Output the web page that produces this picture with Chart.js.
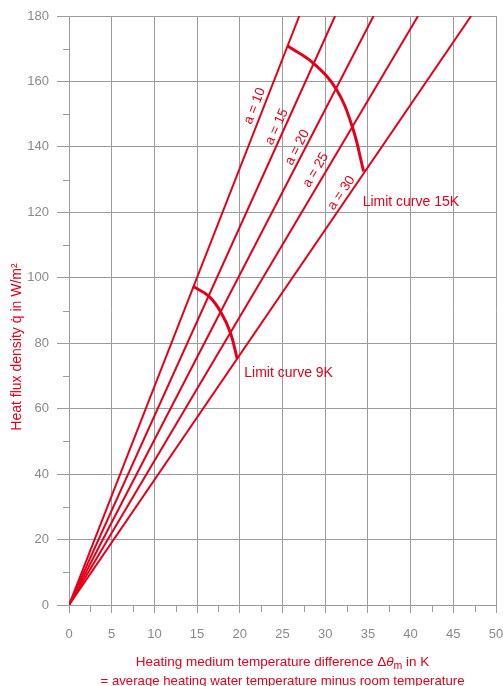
<!DOCTYPE html>
<html>
<head>
<meta charset="utf-8">
<script src="https://cdn.jsdelivr.net/npm/chart.js@4.4.1/dist/chart.umd.min.js"></script>
<style>
  html, body { margin: 0; padding: 0; background: #ffffff; }
  #wrap { width: 503px; height: 686px; position: relative; }
</style>
</head>
<body>
<div id="wrap"><canvas id="c" width="503" height="686"></canvas></div>
<script>
// ---- data ----
const lineLabels = ['a = 10', 'a = 15', 'a = 20', 'a = 25', 'a = 30'];
const lineStartX = [0, 0, 0, 0, 0];
const lineStartY = [0, 0, 0, 0, 0];
const lineEndX = [26.97, 31.16, 35.66, 40.87, 47.09];
const lineEndY = [180, 180, 180, 180, 180];

const limit15Label = 'Limit curve 15K';
const limit15X = [25.6, 28.6, 31.3, 33.2, 34.5];
const limit15Y = [170.8, 165.6, 157.6, 145.9, 132.5];

const limit9Label = 'Limit curve 9K';
const limit9X = [14.5, 16.4, 17.8, 18.9, 19.7];
const limit9Y = [97.4, 94.3, 89.4, 83.2, 75.2];

const xTicks = [0, 5, 10, 15, 20, 25, 30, 35, 40, 45, 50];
const yTicks = [0, 20, 40, 60, 80, 100, 120, 140, 160, 180];
const xMinorTicks = [2.5, 7.5, 12.5, 17.5, 22.5, 27.5, 32.5, 37.5, 42.5, 47.5];
const yMinorTicks = [10, 30, 50, 70, 90, 110, 130, 150, 170];

const yTitle = 'Heat flux density q\u0307 in W/m\u00B2';
const xTitleParts = ['Heating medium temperature difference \u0394', '\u03B8', 'm', ' in K'];
const xTitle2 = '= average heating water temperature minus room temperature';

// ---- styling ----
const RED = '#e2001a';
const GRID = '#9c9c9c';
const TICKTXT = '#8a8a8a';
const FONT = '"Liberation Sans", Arial, Helvetica, sans-serif';

const toPts = (xs, ys) => xs.map((x, i) => ({ x: x, y: ys[i] }));

const datasets = [];
lineLabels.forEach((lab, i) => {
  datasets.push({
    label: lab,
    data: toPts([lineStartX[i], lineEndX[i]], [lineStartY[i], lineEndY[i]]),
    showLine: true, borderColor: RED, borderWidth: 2, pointRadius: 0, tension: 0
  });
});
datasets.push({
  label: limit15Label, data: toPts(limit15X, limit15Y),
  showLine: true, borderColor: RED, borderWidth: 3, pointRadius: 0, tension: 0.4
});
datasets.push({
  label: limit9Label, data: toPts(limit9X, limit9Y),
  showLine: true, borderColor: RED, borderWidth: 3, pointRadius: 0, tension: 0.4
});

// label anchor positions (data coords) for the rotated "a = .." labels
const aLabelAnchor = [[21.75, 152.5], [24.33, 146.1], [26.74, 139.8], [28.9, 132.9], [31.9, 125.9]];

const decor = {
  id: 'decor',
  afterDraw(chart) {
    const ctx = chart.ctx;
    const xs = chart.scales.x, ys = chart.scales.y;
    const area = chart.chartArea;
    ctx.save();
    // minor ticks
    ctx.strokeStyle = GRID; ctx.lineWidth = 1;
    xMinorTicks.forEach(v => {
      const px = Math.round(xs.getPixelForValue(v)) + 0.5;
      ctx.beginPath(); ctx.moveTo(px, area.bottom); ctx.lineTo(px, area.bottom + 7); ctx.stroke();
    });
    yMinorTicks.forEach(v => {
      const py = Math.round(ys.getPixelForValue(v)) + 0.5;
      ctx.beginPath(); ctx.moveTo(area.left - 6, py); ctx.lineTo(area.left, py); ctx.stroke();
    });

    // rotated line labels
    ctx.fillStyle = RED;
    ctx.font = '13.5px ' + FONT;
    ctx.textAlign = 'center'; ctx.textBaseline = 'middle';
    lineLabels.forEach((lab, i) => {
      const x0 = xs.getPixelForValue(lineStartX[i]), y0 = ys.getPixelForValue(lineStartY[i]);
      const x1 = xs.getPixelForValue(lineEndX[i]), y1 = ys.getPixelForValue(lineEndY[i]);
      const ang = Math.atan2(y1 - y0, x1 - x0);
      const px = xs.getPixelForValue(aLabelAnchor[i][0]);
      const py = ys.getPixelForValue(aLabelAnchor[i][1]);
      ctx.save(); ctx.translate(px, py); ctx.rotate(ang); ctx.fillText(lab, 0, 0); ctx.restore();
    });

    // limit curve labels
    ctx.font = '14px ' + FONT;
    ctx.textAlign = 'left';
    ctx.fillText(limit15Label, xs.getPixelForValue(limit15X[limit15X.length - 1]) - 1, ys.getPixelForValue(limit15Y[limit15Y.length - 1]) + 31);
    ctx.fillText(limit9Label, xs.getPixelForValue(limit9X[limit9X.length - 1]) + 7, ys.getPixelForValue(limit9Y[limit9Y.length - 1]) + 14);

    // x title (with italic theta and subscript m)
    const cx = (area.left + area.right) / 2;
    const fN = '13.5px ' + FONT, fI = 'italic 13.5px ' + FONT, fS = '10.5px ' + FONT;
    ctx.textBaseline = 'alphabetic';
    const fonts = [fN, fI, fS, fN];
    const widths = xTitleParts.map((t, i) => { ctx.font = fonts[i]; return ctx.measureText(t).width; });
    const total = widths.reduce((a, b) => a + b, 0);
    let xx = cx - total / 2;
    const base1 = 666;
    xTitleParts.forEach((t, i) => {
      ctx.font = fonts[i];
      ctx.fillText(t, xx, i === 2 ? base1 + 3 : base1);
      xx += widths[i];
    });
    ctx.font = '13.2px ' + FONT; ctx.textAlign = 'center';
    ctx.fillText(xTitle2, cx, 685);

    // y title
    ctx.save();
    ctx.translate(17, 347);
    ctx.rotate(-Math.PI / 2);
    ctx.textAlign = 'center'; ctx.textBaseline = 'middle';
    ctx.font = '14px ' + FONT;
    ctx.fillText(yTitle, 0, 0);
    ctx.restore();

    ctx.restore();
  }
};

new Chart(document.getElementById('c'), {
  type: 'scatter',
  data: { datasets: datasets },
  plugins: [decor],
  options: {
    responsive: false,
    animation: false,
    layout: { padding: { top: 16, right: 7, left: 0, bottom: 0 } },
    plugins: { legend: { display: false }, tooltip: { enabled: false } },
    scales: {
      x: {
        type: 'linear', min: 0, max: 50,
        afterBuildTicks(s) { s.ticks = xTicks.map(v => ({ value: v })); },
        ticks: { color: TICKTXT, font: { size: 13, family: FONT }, padding: 14, maxRotation: 0, autoSkip: false },
        grid: { color: GRID, tickColor: GRID, tickLength: 8, lineWidth: 1 },
        border: { color: GRID, width: 1 },
        afterFit(s) { s.height = 81; s.paddingLeft = 0; s.paddingRight = 0; }
      },
      y: {
        type: 'linear', min: 0, max: 180,
        afterBuildTicks(s) { s.ticks = yTicks.map(v => ({ value: v })); },
        ticks: { color: TICKTXT, font: { size: 13, family: FONT }, padding: 8, autoSkip: false },
        grid: { color: GRID, tickColor: GRID, tickLength: 12, lineWidth: 1 },
        border: { color: GRID, width: 1 },
        afterFit(s) { s.width = 69; s.paddingTop = 0; s.paddingBottom = 0; }
      }
    }
  }
});
</script>
</body>
</html>
